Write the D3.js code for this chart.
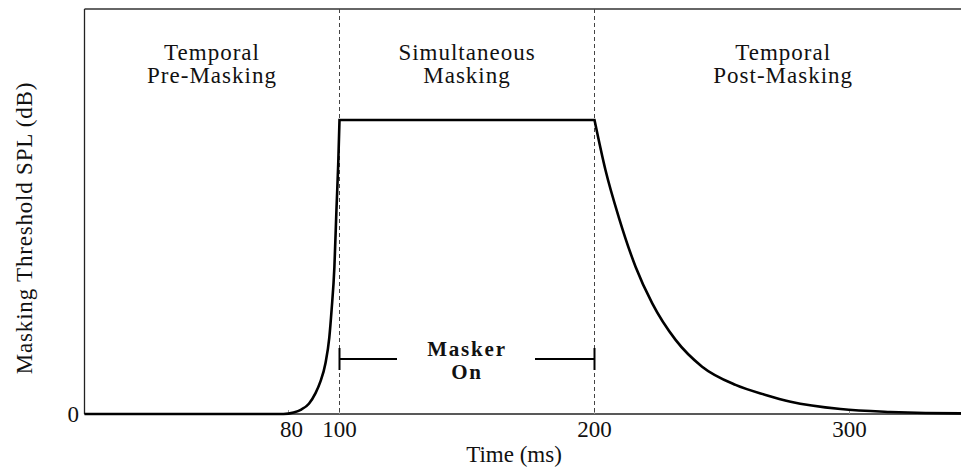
<!DOCTYPE html>
<html><head><meta charset="utf-8">
<script src="https://cdn.jsdelivr.net/npm/d3@7/dist/d3.min.js"></script>
<style>
body{margin:0;background:#fff;}
text{font-family:"Liberation Serif","Times New Roman",serif;fill:#111;}
</style></head>
<body><svg id="c" width="961" height="470"></svg>
<script>
// Data (three phases of the masking threshold)
const preTime = [0, 78, 82, 85, 88, 90.6, 92.5, 94.5, 96, 96.9, 98, 98.8, 99.5, 100];
const preValue = [0, 0, 0.005, 0.015, 0.035, 0.071, 0.11, 0.173, 0.26, 0.354, 0.5, 0.694, 0.85, 1.0];
const simTime = [100, 200];
const simValue = [1.0, 1.0];
const postTime = [200, 204.3, 209.5, 216.1, 222.6, 231.8, 242.2, 255.3, 267.1, 276.9, 296.5, 316, 343.5, 350];
const postValue = [1.0, 0.83, 0.67, 0.501, 0.377, 0.252, 0.161, 0.099, 0.065, 0.042, 0.017, 0.007, 0.002, 0.002];
const xTicks = [80, 100, 200, 300];
const yTicks = [0];
const markerTimes = [100, 200];
const regionLabels = [
  {t: 50, lines: ["Temporal", "Pre-Masking"]},
  {t: 150, lines: ["Simultaneous", "Masking"]},
  {t: 274, lines: ["Temporal", "Post-Masking"]}
];
const maskerLabel = ["Masker", "On"];
const xTitle = "Time (ms)";
const yTitle = "Masking Threshold SPL (dB)";

const svg = d3.select("#c");
const x = d3.scaleLinear().domain([0, 350]).range([84.5, 84.5 + 350 * 2.55]);
const y = d3.scaleLinear().domain([0, 1.3776]).range([414, 9]);

// frame
svg.append("line").attr("x1", x(0)).attr("x2", 961).attr("y1", y(0)).attr("y2", y(0)).attr("stroke", "#222").attr("stroke-width", 1.3);
svg.append("line").attr("x1", x(0)).attr("x2", 961).attr("y1", 9).attr("y2", 9).attr("stroke", "#333").attr("stroke-width", 1.6);
svg.append("line").attr("x1", x(0)).attr("x2", x(0)).attr("y1", 9).attr("y2", y(0)).attr("stroke", "#222").attr("stroke-width", 1.3);

// ticks (inward)
svg.selectAll(".xt").data(xTicks).join("line")
  .attr("x1", d => x(d)).attr("x2", d => x(d)).attr("y1", y(0)).attr("y2", y(0) - 4)
  .attr("stroke", "#999").attr("stroke-width", 1);
svg.selectAll(".xl").data(xTicks).join("text")
  .attr("x", d => x(d) + (d === 80 ? 3 : 0)).attr("y", 437).attr("text-anchor", "middle")
  .attr("font-size", 23).text(d => d);
svg.selectAll(".yl").data(yTicks).join("text")
  .attr("x", 79).attr("y", d => y(d) + 8).attr("text-anchor", "end")
  .attr("font-size", 23).text(d => d);

// dashed markers
svg.selectAll(".dm").data(markerTimes).join("line")
  .attr("x1", d => x(d)).attr("x2", d => x(d)).attr("y1", 9).attr("y2", y(0))
  .attr("stroke", "#444").attr("stroke-width", 1).attr("stroke-dasharray", "4,3");

// curve: three phases drawn as one path with sharp corners between phases
const seg = (ts, vs) => d3.line().x((d, i) => x(ts[i])).y(d => y(d)).curve(d3.curveMonotoneX)(vs);
const dPath = seg(preTime, preValue) + seg(simTime, simValue).replace(/^M/, "L") + seg(postTime, postValue).replace(/^M/, "L");
svg.append("path").attr("d", dPath).attr("fill", "none").attr("stroke", "#000").attr("stroke-width", 2.6).attr("stroke-linejoin", "miter");

// masker on annotation
const my = 359;
const g = svg.append("g").attr("stroke", "#000").attr("stroke-width", 2);
g.append("line").attr("x1", x(markerTimes[0])).attr("x2", 397).attr("y1", my).attr("y2", my);
g.append("line").attr("x1", 535).attr("x2", x(markerTimes[1])).attr("y1", my).attr("y2", my);
g.append("line").attr("x1", x(markerTimes[0])).attr("x2", x(markerTimes[0])).attr("y1", my - 11).attr("y2", my + 11);
g.append("line").attr("x1", x(markerTimes[1])).attr("x2", x(markerTimes[1])).attr("y1", my - 11).attr("y2", my + 11);
maskerLabel.forEach((l, i) => svg.append("text").attr("text-anchor", "middle").attr("font-size", 21)
  .attr("font-weight", "bold").attr("letter-spacing", 1.8)
  .attr("x", x(150)).attr("y", i === 0 ? 355.5 : 379).text(l));

// region labels
regionLabels.forEach(r => {
  const t = svg.append("text").attr("text-anchor", "middle").attr("font-size", 23).attr("letter-spacing", 1);
  r.lines.forEach((l, i) => t.append("tspan").attr("x", x(r.t)).attr("y", 60 + i * 23).text(l));
});

// axis titles
svg.append("text").attr("x", 514).attr("y", 462).attr("text-anchor", "middle").attr("font-size", 23).text(xTitle);
svg.append("text").attr("transform", "translate(32,228) rotate(-90)").attr("text-anchor", "middle")
  .attr("font-size", 23).attr("letter-spacing", 0.8).text(yTitle);
</script></body></html>
